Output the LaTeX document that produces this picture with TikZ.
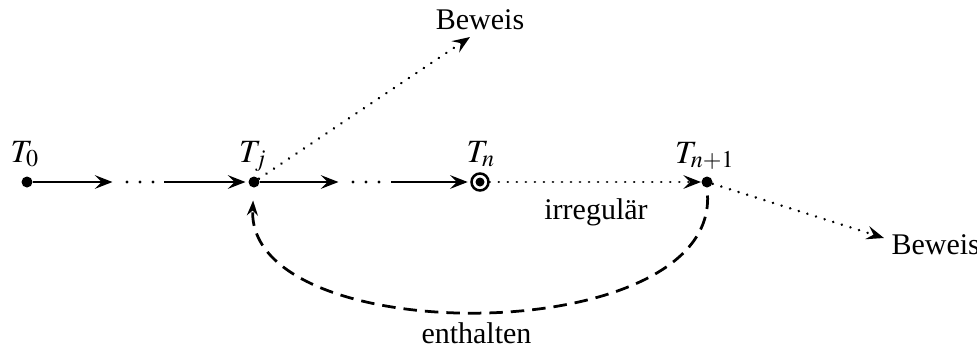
\documentclass[tikz,border=0pt]{standalone}
\usepackage{mathptmx}
\usepackage{fontspec}
\setmainfont{Liberation Serif}
\usetikzlibrary{arrows.meta}
\begin{document}
\begin{tikzpicture}[x=0.4pt,y=-0.4pt,
  every node/.style={font=\fontsize{12}{14}\selectfont},
  pt/.style={circle,fill=black,inner sep=0pt,minimum size=4.4pt},
  tip/.style={-{Stealth[length=7pt,width=5.4pt,inset=2.6pt]}},
  solidarrow/.style={tip,line width=1.1pt,shorten >=1pt},
  dotarrow/.style={tip,line width=1.1pt,dash pattern=on 0.01pt off 3.6pt,line cap=round},
  dasharrow/.style={-{Stealth[length=6pt,width=4.4pt,inset=2pt]},line width=1.1pt,dash pattern=on 5.4pt off 3.2pt},
  lbl/.style={inner sep=0pt,anchor=base},
  mlbl/.style={inner sep=0pt,anchor=base,font=\fontsize{13}{16}\selectfont},
  dd/.style={circle,fill=black,inner sep=0pt,minimum size=1.3pt}]
\useasboundingbox (0,0) rectangle (977,349);
\node[pt] (t0) at (27,182) {};
\node[pt] (tj) at (254,182) {};
\node[circle,draw,line width=1pt,minimum size=6.8pt,inner sep=0pt] (tn) at (480,182) {};
\node[circle,fill=black,minimum size=3.6pt,inner sep=0pt] at (tn) {};
\node[pt] (tn1) at (707,182) {};
\node[mlbl] (l0) at (25,162) {$T_0$};
\node[mlbl] (lj) at (253,162) {$T_j$};
\node[mlbl] (ln) at (481,162) {$T_n$};
\node[mlbl] (ln1) at (705,163) {$T_{n+1}$};
\coordinate (a1) at (115,182);
\node[dd] (d11) at (127,182) {};
\node[dd] (d12) at (140,182) {};
\node[dd] (d13) at (153,182) {};
\coordinate (a2) at (164,182);
\coordinate (b1) at (341,182);
\node[dd] (d21) at (353,182) {};
\node[dd] (d22) at (366,182) {};
\node[dd] (d23) at (379,182) {};
\coordinate (b2) at (391,182);
\draw[solidarrow] (t0) -- (a1);
\draw[solidarrow] (a2) -- (tj);
\draw[solidarrow] (tj) -- (b1);
\draw[solidarrow] (b2) -- (tn);
\draw[dotarrow] (tn) -- (tn1);
\node[lbl] (irr) at (596,219) {irregulär};
\node[lbl] (bw1) at (480,29) {Beweis};
\coordinate (e1) at (470,37);
\draw[dotarrow] (tj) -- (e1);
\node[lbl,anchor=base west] (bw2) at (891,254) {Beweis};
\coordinate (e2) at (884,238);
\draw[dotarrow] (tn1) -- (e2);
\draw[dasharrow,shorten <=3pt,shorten >=5pt] (tn1) .. controls (714,350) and (246,350) .. (tj);
\node[lbl,anchor=base west] (ent) at (421,343) {enthalten};
\end{tikzpicture}
\end{document}
